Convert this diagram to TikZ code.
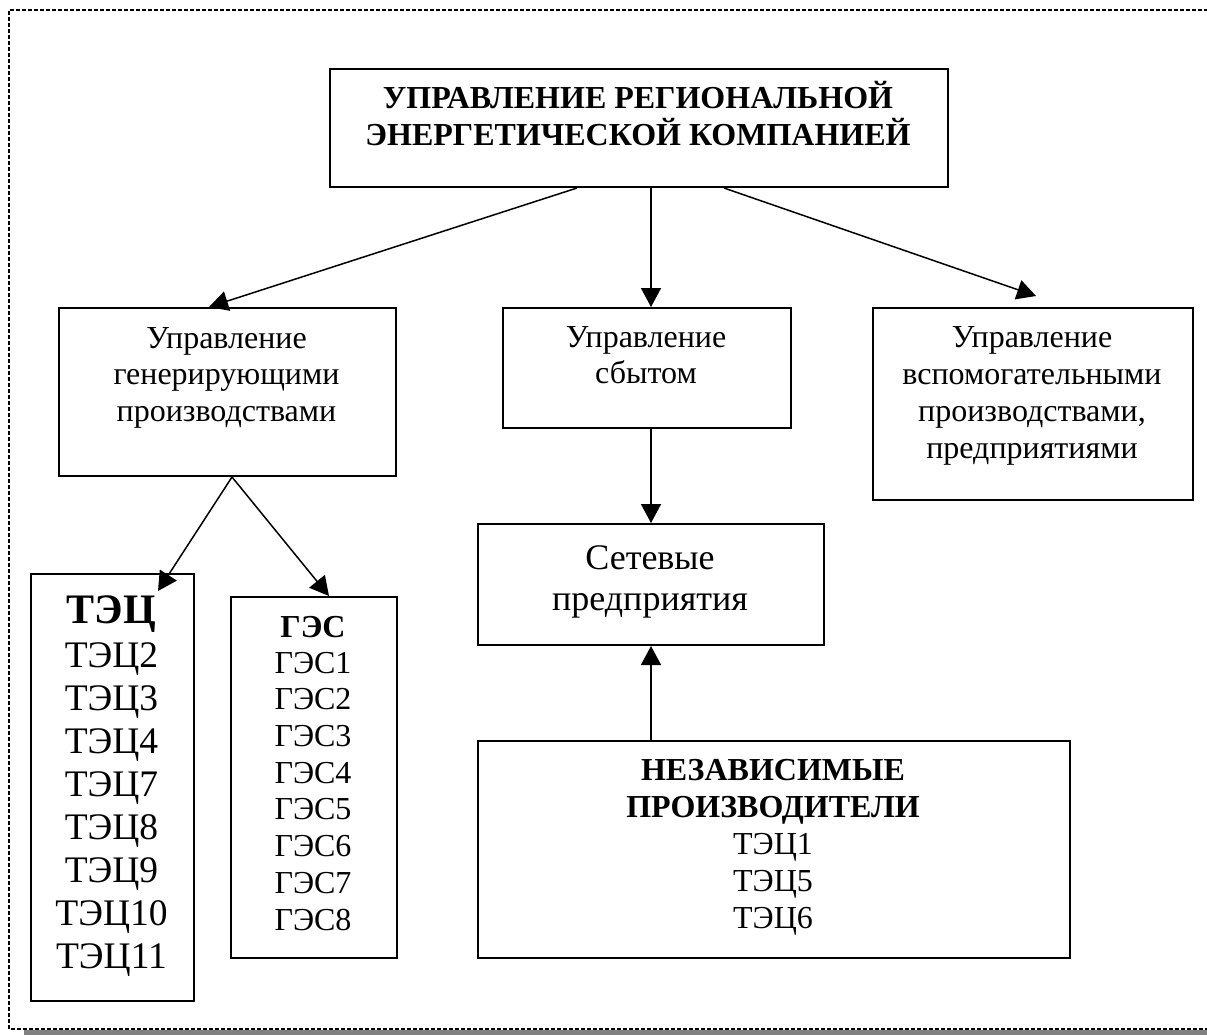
\documentclass[tikz,border=0pt]{standalone}
\usepackage{fontspec}
\setmainfont{Liberation Serif}
\usetikzlibrary{arrows.meta}
\definecolor{shadowgray}{RGB}{128,128,128}
\begin{document}
\begin{tikzpicture}[x=1pt,y=-1pt,
  box/.style={draw, line width=2pt, inner sep=0pt, anchor=north west},
  txt/.style={inner sep=0pt, anchor=base, align=center, font=\fontsize{32}{36.5}\selectfont},
  big/.style={inner sep=0pt, anchor=base, align=center, font=\fontsize{37.5}{43}\selectfont},
  arr/.style={line width=1.5pt, -{Triangle[length=19pt,width=20pt]}},
  frame/.style={draw, line width=1.3pt, dash pattern=on 4pt off 2pt}]
\useasboundingbox (0,0) rectangle (1207,1034);
% frame with shadow
\fill[shadowgray] (24,1030) rectangle (1220,1040);
\draw[frame] (1220,10) -- (9,10) -- (9,1029) -- (1220,1029);
% boxes
\node[box, minimum width=618pt, minimum height=118pt] (top) at (329,68) {};
\node[box, minimum width=337pt, minimum height=168pt] (gen) at (58,307) {};
\node[box, minimum width=288pt, minimum height=120pt] (sbyt) at (502,307) {};
\node[box, minimum width=320pt, minimum height=192pt] (aux) at (872,307) {};
\node[box, minimum width=346pt, minimum height=121pt] (set) at (477,523) {};
\node[box, minimum width=592pt, minimum height=217pt] (nez) at (477,740) {};
\node[box, minimum width=163pt, minimum height=427pt] (tec) at (30,573) {};
\node[box, minimum width=166pt, minimum height=361pt] (ges) at (230,596) {};
% texts (anchor = baseline of the last line)
\node[txt, font=\fontsize{32}{37}\selectfont\bfseries] (topT) at (638,145) {УПРАВЛЕНИЕ РЕГИОНАЛЬНОЙ\\ЭНЕРГЕТИЧЕСКОЙ КОМПАНИЕЙ};
\node[txt] (genT) at (226.5,421) {Управление\\генерирующими\\производствами};
\node[txt, font=\fontsize{32}{36}\selectfont] (sbytT) at (646,383) {Управление\\сбытом};
\node[txt, font=\fontsize{32}{37}\selectfont] (auxT) at (1032,458) {Управление\\вспомогательными\\производствами,\\предприятиями};
\node[txt, font=\fontsize{36}{41}\selectfont] (setT) at (650,610) {Сетевые\\предприятия};
\node[txt, font=\fontsize{32}{37}\selectfont] (nezT) at (773,928) {\textbf{НЕЗАВИСИМЫЕ}\\\textbf{ПРОИЗВОДИТЕЛИ}\\ТЭЦ1\\ТЭЦ5\\ТЭЦ6};
\node[txt, font=\fontsize{42}{48}\selectfont\bfseries] (tecH) at (111.5,623) {ТЭЦ};
\node[big] (tecT) at (111.5,968) {ТЭЦ2\\ТЭЦ3\\ТЭЦ4\\ТЭЦ7\\ТЭЦ8\\ТЭЦ9\\ТЭЦ10\\ТЭЦ11};
\node[txt, font=\fontsize{32}{36.7}\selectfont\bfseries] (gesH) at (313,637) {ГЭС};
\node[txt, font=\fontsize{32}{36.7}\selectfont] (gesT) at (313,930) {ГЭС1\\ГЭС2\\ГЭС3\\ГЭС4\\ГЭС5\\ГЭС6\\ГЭС7\\ГЭС8};
% connectors
\draw[arr] ([xshift=-62pt]top.south) -- ([xshift=-18.5pt]gen.north);
\draw[arr] ([xshift=12pt]top.south) -- ([xshift=4pt]sbyt.north);
\draw[arr] ([xshift=85pt]top.south) -- ([xshift=3pt,yshift=11pt]aux.north);
\draw[arr] ([xshift=4.5pt]gen.south) -- ([xshift=45.5pt,yshift=-18pt]tec.north);
\draw[arr] ([xshift=4.5pt]gen.south) -- ([xshift=15pt]ges.north);
\draw[arr] ([xshift=4pt]sbyt.south) -- (set.north);
\draw[arr] ([xshift=-123pt]nez.north) -- (set.south);
\end{tikzpicture}
\end{document}
